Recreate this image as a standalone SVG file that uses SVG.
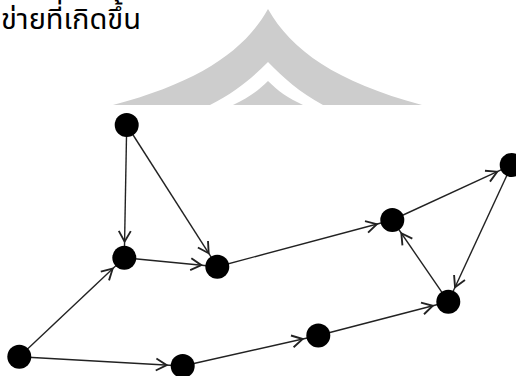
<svg xmlns="http://www.w3.org/2000/svg" width="516" height="376" viewBox="0 0 516 376">
<style>
.t{font-family:'Noto Sans Thai','Noto Sans','DejaVu Sans',sans-serif;font-size:29px;fill:#000}
.wm{fill:#cdcdcd}
.e{stroke:#222;stroke-width:1.4;fill:none;marker-end:url(#ah)}
.n{fill:#000}
</style>
<defs>
<marker id="ah" markerUnits="userSpaceOnUse" markerWidth="40" markerHeight="20" viewBox="-2 -6 30 12" refX="20" refY="0" orient="auto" overflow="visible">
<path d="M0,-4.5 L8,0 L0,4.5" fill="none" stroke="#222" stroke-width="1.4"/>
</marker>
</defs>
<g id="watermark">
<path class="wm" d="M268,9 C245,50 200,82 113,105 L422,105 C336,82 291,50 268,9 Z"/>
<path fill="#fff" d="M268,62 C252,78 236,92 210,105 L323,105 C299,92 284,78 268,62 Z"/>
<path class="wm" d="M268,81 C258,91 248,98 233,105 L303,105 C288,98 278,91 268,81 Z"/>
</g>
<text class="t" x="1" y="29">ข่ายที่เกิดขึ้น</text>
<g id="connectors">
<line class="e" x1="126.7" y1="125" x2="124.3" y2="257.7"/>
<line class="e" x1="126.7" y1="125" x2="217.3" y2="266.7"/>
<line class="e" x1="124.3" y1="257.7" x2="217.3" y2="266.7"/>
<line class="e" x1="19.3" y1="356.7" x2="124.3" y2="257.7"/>
<line class="e" x1="19.3" y1="356.7" x2="182.7" y2="366"/>
<line class="e" x1="182.7" y1="366" x2="318.3" y2="335.5"/>
<line class="e" x1="318.3" y1="335.5" x2="448.3" y2="301.7"/>
<line class="e" x1="448.3" y1="301.7" x2="392.3" y2="220"/>
<line class="e" x1="217.3" y1="266.7" x2="392.3" y2="220"/>
<line class="e" x1="392.3" y1="220" x2="511.7" y2="165"/>
<line class="e" x1="511.7" y1="165" x2="448.3" y2="301.7"/>
</g>
<g id="nA"><circle class="n" cx="126.7" cy="125" r="12"/></g>
<g id="nB"><circle class="n" cx="124.3" cy="257.7" r="12"/></g>
<g id="nC"><circle class="n" cx="217.3" cy="266.7" r="12"/></g>
<g id="nD"><circle class="n" cx="392.3" cy="220" r="12"/></g>
<g id="nE"><circle class="n" cx="511.7" cy="165" r="12"/></g>
<g id="nF"><circle class="n" cx="448.3" cy="301.7" r="12"/></g>
<g id="nG"><circle class="n" cx="318.3" cy="335.5" r="12"/></g>
<g id="nH"><circle class="n" cx="19.3" cy="356.7" r="12"/></g>
<g id="nI"><circle class="n" cx="182.7" cy="366" r="12"/></g>
</svg>
